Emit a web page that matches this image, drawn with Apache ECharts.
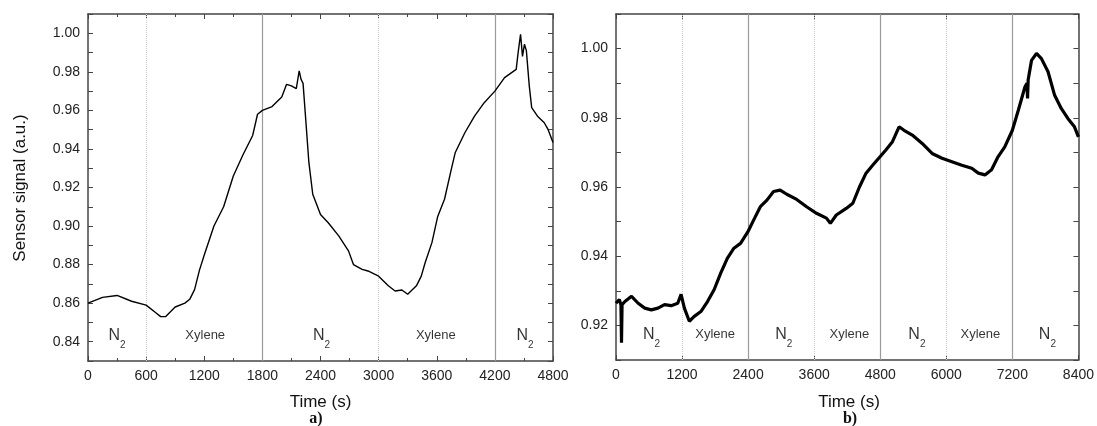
<!DOCTYPE html>
<html>
<head>
<meta charset="utf-8">
<script src="https://cdn.jsdelivr.net/npm/echarts@6/dist/echarts.min.js"></script>
<style>
html,body{margin:0;padding:0;background:#fff;}
#chart{width:1097px;height:426px;}
</style>
</head>
<body>
<div id="chart"></div>
<script>
// ---- data ----
const leftTime = [0,150,300,450,600,700,750,800,900,1000,1050,1100,1150,1200,1300,1400,1500,1600,1700,1750,1800,1900,2000,2050,2100,2150,2180,2200,2220,2250,2280,2320,2400,2480,2590,2690,2740,2830,2890,3000,3100,3170,3240,3300,3390,3440,3480,3550,3610,3680,3750,3790,3890,3990,4090,4200,4300,4420,4440,4465,4485,4505,4525,4555,4580,4640,4710,4750,4800];
const leftSignal = [0.860,0.863,0.864,0.861,0.859,0.855,0.853,0.853,0.858,0.860,0.862,0.867,0.877,0.885,0.900,0.910,0.926,0.937,0.947,0.958,0.960,0.962,0.967,0.9735,0.9727,0.9713,0.9805,0.976,0.974,0.9536,0.933,0.9165,0.906,0.9017,0.8948,0.887,0.880,0.8775,0.8767,0.874,0.869,0.8663,0.8668,0.8646,0.869,0.874,0.881,0.8914,0.905,0.9139,0.9294,0.938,0.9484,0.957,0.964,0.970,0.977,0.9813,0.990,0.9995,0.988,0.9943,0.991,0.9727,0.9614,0.957,0.9536,0.950,0.9433];

const rightTime = [0,60,90,100,110,162,282,402,522,642,762,882,1002,1122,1182,1242,1332,1422,1542,1662,1782,1902,2022,2142,2262,2394,2502,2622,2742,2862,2982,3102,3282,3462,3642,3822,3894,4002,4182,4302,4422,4542,4662,4800,4902,5022,5142,5232,5382,5562,5742,5922,6102,6282,6462,6582,6702,6822,6942,7062,7200,7308,7428,7465,7476,7487,7548,7638,7728,7848,7968,8088,8208,8328,8400];
const rightSignal = [0.9264,0.9275,0.926,0.915,0.926,0.9269,0.9284,0.9264,0.925,0.9245,0.925,0.926,0.9257,0.9264,0.929,0.925,0.9212,0.9226,0.924,0.9269,0.9303,0.9351,0.9394,0.9423,0.9437,0.947,0.9505,0.9543,0.9562,0.9587,0.9591,0.9579,0.9564,0.9543,0.9524,0.951,0.9495,0.9519,0.9538,0.9553,0.960,0.964,0.9663,0.9688,0.9707,0.9731,0.9774,0.9764,0.975,0.9726,0.9697,0.9683,0.9673,0.9663,0.9654,0.964,0.9635,0.965,0.9688,0.9716,0.9764,0.9822,0.9889,0.990,0.9856,0.991,0.9966,0.9986,0.9971,0.9933,0.9865,0.9827,0.9798,0.9774,0.9745];

const leftSolidLines = [1800, 4200];
const leftDottedLines = [600, 3000];
const rightSolidLines = [2400, 4800, 7200];
const rightDottedLines = [1200, 3600, 6000];

const leftPhaseNames = ['N2','Xylene','N2','Xylene','N2'];
const leftPhaseTimes = [280, 1210, 2390, 3590, 4490];
const rightPhaseNames = ['N2','Xylene','N2','Xylene','N2','Xylene','N2'];
const rightPhaseTimes = [610, 1800, 3010, 4240, 5430, 6620, 7800];

const leftLabelLevel = 0.8433;
const rightLabelLevel = 0.9174;

const xTitle = 'Time (s)';
const yTitle = 'Sensor signal (a.u.)';
const panelTags = ['a)', 'b)'];

// ---- chart ----
const FONT = '"Liberation Sans", Arial, sans-serif';
const AX = '#444';
const pair = (xs, ys) => xs.map((x, i) => [x, ys[i]]);

function xAx(grid, max, interval, pos, minor) {
  return {
    gridIndex: grid, type: 'value', min: 0, max: max, interval: interval, position: pos,
    axisLine: {show: true, onZero: false, lineStyle: {color: AX, width: 1.5}},
    axisTick: {show: true, inside: true, length: 5, lineStyle: {color: AX, width: 1}},
    minorTick: {show: minor, splitNumber: 2, length: 3, lineStyle: {color: AX, width: 1}},
    axisLabel: {show: pos === 'bottom', margin: 8, fontSize: 14, color: '#222', fontFamily: FONT,
      formatter: v => String(Math.round(v))},
    splitLine: {show: false}, minorSplitLine: {show: false}
  };
}
function yAx(grid, min, max, pos) {
  return {
    gridIndex: grid, type: 'value', min: min, max: max, interval: 0.01, position: pos,
    axisLine: {show: true, onZero: false, lineStyle: {color: AX, width: 1.5}},
    axisTick: {show: true, inside: true, length: 5, lineStyle: {color: AX, width: 1}},
    axisLabel: {
      show: pos === 'left', margin: 8, fontSize: 14, color: '#222', fontFamily: FONT,
      showMinLabel: true, showMaxLabel: true,
      formatter: v => (Math.round(v * 100) % 2 === 0 ? v.toFixed(2) : '')
    },
    splitLine: {show: false}
  };
}

function vlines(solid, dotted) {
  return {
    silent: true, symbol: ['none', 'none'], label: {show: false}, animation: false,
    data: solid.map(v => ({xAxis: v, lineStyle: {color: '#9a9a9a', width: 1.2, type: 'solid'}}))
      .concat(dotted.map(v => ({xAxis: v, lineStyle: {color: '#cfcfcf', width: 1, type: 'dotted'}})))
  };
}

const rich = {
  n: {fontSize: 16, lineHeight: 15, verticalAlign: 'top', color: '#000', fontFamily: FONT},
  s: {fontSize: 10, lineHeight: 22, verticalAlign: 'bottom', color: '#000', fontFamily: FONT},
  x: {fontSize: 13, lineHeight: 15, color: '#000', fontFamily: FONT}
};

function phaseData(names, times, level) {
  return names.map((n, i) => ({
    value: [times[i], level],
    label: n === 'N2'
      ? {show: true, position: 'inside', formatter: '{n|N}{s|2}', offset: [2, 3.5], rich: rich}
      : {show: true, position: 'inside', formatter: '{x|' + n + '}', rich: rich}
  }));
}

const option = {
  animation: false,
  backgroundColor: '#fff',
  grid: [
    {left: 88, top: 14, width: 465, height: 347},
    {left: 616, top: 14, width: 466, height: 346}
  ],
  xAxis: [
    xAx(0, 4800, 600, 'bottom', true),
    xAx(0, 4800, 600, 'top', true),
    xAx(1, 8400, 1200, 'bottom', false),
    xAx(1, 8400, 1200, 'top', false)
  ],
  yAxis: [
    yAx(0, 0.83, 1.01, 'left'),
    yAx(0, 0.83, 1.01, 'right'),
    yAx(1, 0.91, 1.01, 'left'),
    yAx(1, 0.91, 1.01, 'right')
  ],
  series: [
    {
      type: 'scatter', xAxisIndex: 0, yAxisIndex: 0, symbolSize: 0, z: 1,
      data: phaseData(leftPhaseNames, leftPhaseTimes, leftLabelLevel),
      label: {show: true, position: 'inside', rich: rich},
      markLine: vlines(leftSolidLines, leftDottedLines)
    },
    {
      type: 'scatter', xAxisIndex: 2, yAxisIndex: 2, symbolSize: 0, z: 1,
      data: phaseData(rightPhaseNames, rightPhaseTimes, rightLabelLevel),
      label: {show: true, position: 'inside', rich: rich},
      markLine: vlines(rightSolidLines, rightDottedLines)
    },
    {
      type: 'line', xAxisIndex: 0, yAxisIndex: 0, z: 5, showSymbol: false, symbol: 'none',
      lineStyle: {color: '#000', width: 1.4}, data: pair(leftTime, leftSignal)
    },
    {
      type: 'line', xAxisIndex: 2, yAxisIndex: 2, z: 5, showSymbol: false, symbol: 'none',
      lineStyle: {color: '#000', width: 3.2}, data: pair(rightTime, rightSignal)
    }
  ],
  graphic: [
    {type: 'text', x: 20, y: 188, rotation: Math.PI / 2,
     style: {text: yTitle, fontSize: 17, fontFamily: FONT, fill: '#111', align: 'center', verticalAlign: 'middle'}},
    {type: 'text', x: 320.5, y: 402,
     style: {text: xTitle, fontSize: 17, fontFamily: FONT, fill: '#111', align: 'center', verticalAlign: 'middle'}},
    {type: 'text', x: 849, y: 402,
     style: {text: xTitle, fontSize: 17, fontFamily: FONT, fill: '#111', align: 'center', verticalAlign: 'middle'}},
    {type: 'text', x: 316, y: 419,
     style: {text: panelTags[0], fontSize: 16, fontWeight: 'bold', fontFamily: '"Liberation Serif", "Times New Roman", serif', fill: '#111', align: 'center', verticalAlign: 'middle'}},
    {type: 'text', x: 850, y: 419,
     style: {text: panelTags[1], fontSize: 16, fontWeight: 'bold', fontFamily: '"Liberation Serif", "Times New Roman", serif', fill: '#111', align: 'center', verticalAlign: 'middle'}}
  ]
};

const chart = echarts.init(document.getElementById('chart'), null, {renderer: 'canvas'});
chart.setOption(option);
</script>
</body>
</html>
